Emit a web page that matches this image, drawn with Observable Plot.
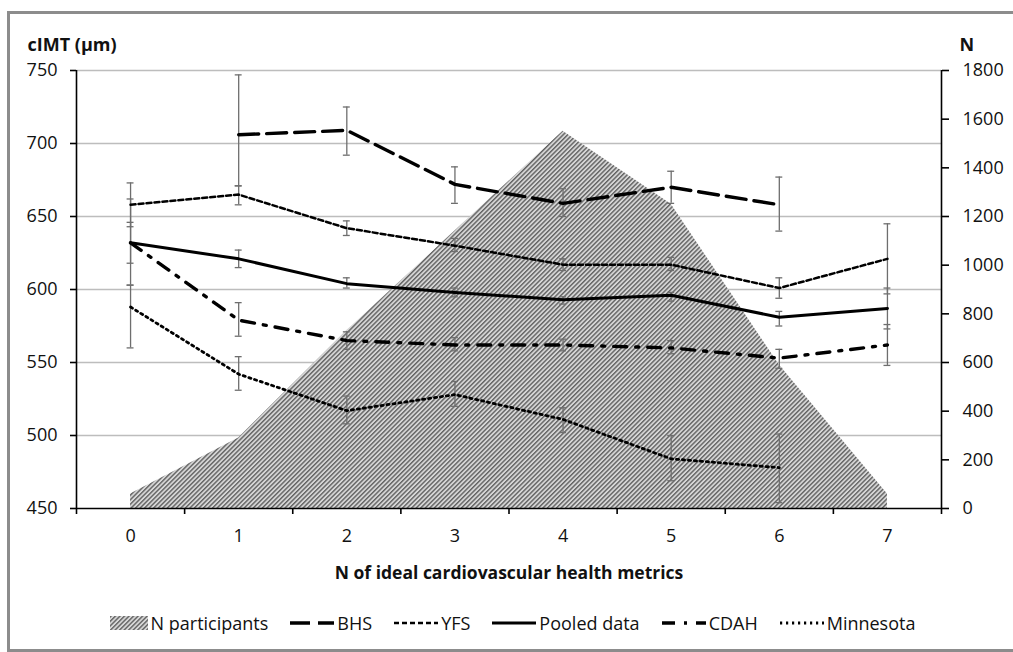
<!DOCTYPE html>
<html><head><meta charset="utf-8">
<script src="https://cdn.jsdelivr.net/npm/d3@7"></script>
<script src="https://cdn.jsdelivr.net/npm/@observablehq/plot@0.6"></script>
<style>
body{margin:0;background:#fff;font-family:"Open Sans",sans-serif;}
#wrap{position:relative;width:1013px;height:652px;overflow:hidden;background:#fff;}
#frame{position:absolute;left:7px;top:11px;width:1012px;height:641px;border:3px solid #8c8c8c;box-sizing:border-box;pointer-events:none;}
#chart{position:absolute;left:0;top:0;}
#legend{position:absolute;left:0;top:611px;width:1025px;display:flex;justify-content:center;align-items:center;font-size:18px;color:#111;}
.item{display:flex;align-items:center;margin:0 11px;}
.item svg{margin-right:3px;}
</style></head>
<body><div id="wrap"><div id="chart"></div><div id="legend"></div><div id="frame"></div></div>
<script>
// ---- data ----
const metrics = [0, 1, 2, 3, 4, 5, 6, 7];
const nParticipants = [60, 290, 730, 1140, 1550, 1250, 590, 60];

const bhs      = [null, 706, 709, 672, 659, 670, 658, null];
const bhsLo    = [null, 671, 692, 659, 650, 659, 640, null];
const bhsHi    = [null, 747, 725, 684, 669, 681, 677, null];

const yfs      = [658, 665, 642, 630, 617, 617, 601, 621];
const yfsLo    = [643, 658, 637, 626, 613, 613, 594, 597];
const yfsHi    = [673, 671, 647, 635, 621, 622, 608, 645];

const pooled   = [632, 621, 604, 598, 593, 596, 581, 587];
const pooledLo = [618, 615, 601, 595, 590, 592, 575, 573];
const pooledHi = [646, 627, 608, 601, 595, 598, 585, 601];

const cdah     = [632, 579, 565, 562, 562, 560, 553, 562];
const cdahLo   = [603, 568, 559, 558, 558, 556, 546, 548];
const cdahHi   = [662, 591, 571, 567, 566, 565, 559, 576];

const minnesota   = [588, 542, 517, 528, 511, 484, 478, null];
const minnesotaLo = [560, 531, 508, 520, 502, 469, 454, null];
const minnesotaHi = [603, 554, 527, 537, 519, 500, 501, null];

const cimtTicks = [450, 500, 550, 600, 650, 700, 750];
const nTicks = [0, 200, 400, 600, 800, 1000, 1200, 1400, 1600, 1800];

const seriesNames = ["BHS", "YFS", "Pooled data", "CDAH", "Minnesota"];
const seriesStyle = {
  "BHS":         {dash: "20,8",       width: 3.4},
  "YFS":         {dash: "5,3",        width: 2.5},
  "Pooled data": {dash: null,         width: 3},
  "CDAH":        {dash: "13,9,3,9",   width: 3.4},
  "Minnesota":   {dash: "2.2,3.8",    width: 2.8}
};
const seriesData = {
  "BHS": [bhs, bhsLo, bhsHi],
  "YFS": [yfs, yfsLo, yfsHi],
  "Pooled data": [pooled, pooledLo, pooledHi],
  "CDAH": [cdah, cdahLo, cdahHi],
  "Minnesota": [minnesota, minnesotaLo, minnesotaHi]
};

// ---- derived tables ----
const nMin = 0, nMax = 1800, yMin = 450, yMax = 750;
const nToY = n => yMin + (n - nMin) * (yMax - yMin) / (nMax - nMin);
const yToN = y => String(Math.round(nMin + (y - yMin) * (nMax - nMin) / (yMax - yMin)));

const areaRows = metrics.map((m, i) => ({x: m, n: nParticipants[i]}));
const rows = [];
for (const s of seriesNames) {
  const [v, lo, hi] = seriesData[s];
  metrics.forEach((m, i) => { if (v[i] != null) rows.push({series: s, x: m, y: v[i], lo: lo[i], hi: hi[i]}); });
}
const capHalf = 0.032;
const boundaries = metrics.map(m => m - 0.5).concat([metrics[metrics.length - 1] + 0.5]);

const lineMarks = seriesNames.map(s => Plot.line(rows.filter(r => r.series === s), {
  x: "x", y: "y", stroke: "#000", strokeWidth: seriesStyle[s].width,
  strokeDasharray: seriesStyle[s].dash || undefined, strokeLinejoin: "round"
}));

const chart = Plot.plot({
  width: 1013, height: 600,
  marginTop: 70, marginBottom: 92, marginLeft: 76, marginRight: 72,
  style: {fontFamily: "'Open Sans', sans-serif", fontSize: "18px", color: "#111", background: "transparent"},
  x: {domain: [boundaries[0], boundaries[boundaries.length - 1]]},
  y: {domain: [yMin, yMax]},
  marks: [
    Plot.ruleY(cimtTicks.filter(t => t > yMin), {stroke: "#bdbdbd", strokeWidth: 1.4}),
    Plot.areaY(areaRows, {x: "x", y1: yMin, y2: d => nToY(d.n), fill: "url(#hatch)"}),
    Plot.ruleX(rows, {x: "x", y1: "lo", y2: "hi", stroke: "#6e6e6e", strokeWidth: 1.3}),
    Plot.ruleY(rows, {x1: d => d.x - capHalf, x2: d => d.x + capHalf, y: "lo", stroke: "#6e6e6e", strokeWidth: 1.3}),
    Plot.ruleY(rows, {x1: d => d.x - capHalf, x2: d => d.x + capHalf, y: "hi", stroke: "#6e6e6e", strokeWidth: 1.3}),
    ...lineMarks,
    Plot.ruleX([boundaries[0], boundaries[boundaries.length - 1]], {stroke: "#000", strokeWidth: 1.6}),
    Plot.ruleY([yMin], {stroke: "#000", strokeWidth: 1.6}),
    Plot.axisY(cimtTicks, {anchor: "left", tickSize: 6, tickPadding: 13, label: null, stroke: "#000", strokeWidth: 1.6}),
    Plot.axisY(nTicks.map(nToY), {anchor: "right", tickSize: 7, tickPadding: 14, label: null, tickFormat: yToN, stroke: "#000", strokeWidth: 1.6}),
    Plot.axisX(boundaries, {anchor: "bottom", tickSize: 6, tickFormat: () => "", label: null, stroke: "#000", strokeWidth: 1.6}),
    Plot.axisX(metrics, {anchor: "bottom", tickSize: 0, tickPadding: 21, label: null, tickFormat: d => String(d)}),
    Plot.text(["cIMT (µm)"], {frameAnchor: "top-left", dx: -49, dy: -32, textAnchor: "start", fontWeight: "bold", fontSize: 18}),
    Plot.text(["N"], {frameAnchor: "top-right", dx: 18, dy: -32, textAnchor: "start", fontWeight: "bold", fontSize: 18}),
    Plot.text(["N of ideal cardiovascular health metrics"], {frameAnchor: "bottom", dy: 70, fontWeight: "bold", fontSize: 17.5})
  ]
});

// hatch pattern definition
const ns = "http://www.w3.org/2000/svg";
const defs = document.createElementNS(ns, "defs");
defs.innerHTML = `<pattern id="hatch" patternUnits="userSpaceOnUse" width="3.2" height="3.2" patternTransform="rotate(45)">
  <rect width="3.2" height="3.2" fill="#d6d6d6"></rect>
  <rect width="1.4" height="3.2" fill="#626262"></rect>
</pattern>`;
chart.insertBefore(defs, chart.firstChild);
document.getElementById("chart").appendChild(chart);

// ---- legend ----
const legend = document.getElementById("legend");
function addItem(label, swatchSvg) {
  const el = document.createElement("div");
  el.className = "item";
  el.innerHTML = swatchSvg + `<span>${label}</span>`;
  legend.appendChild(el);
}
addItem("N participants", `<svg width="38" height="14"><defs><pattern id="hatch2" patternUnits="userSpaceOnUse" width="3.2" height="3.2" patternTransform="rotate(45)"><rect width="3.2" height="3.2" fill="#d6d6d6"></rect><rect width="1.4" height="3.2" fill="#626262"></rect></pattern></defs><rect x="0" y="0" width="38" height="14" fill="url(#hatch2)"></rect></svg>`);
for (const s of seriesNames) {
  const st = seriesStyle[s];
  addItem(s, `<svg width="44" height="12"><line x1="0" x2="44" y1="6" y2="6" stroke="#000" stroke-width="${st.width}" ${st.dash ? `stroke-dasharray="${st.dash}"` : ""}></line></svg>`);
}
</script>
</body></html>
